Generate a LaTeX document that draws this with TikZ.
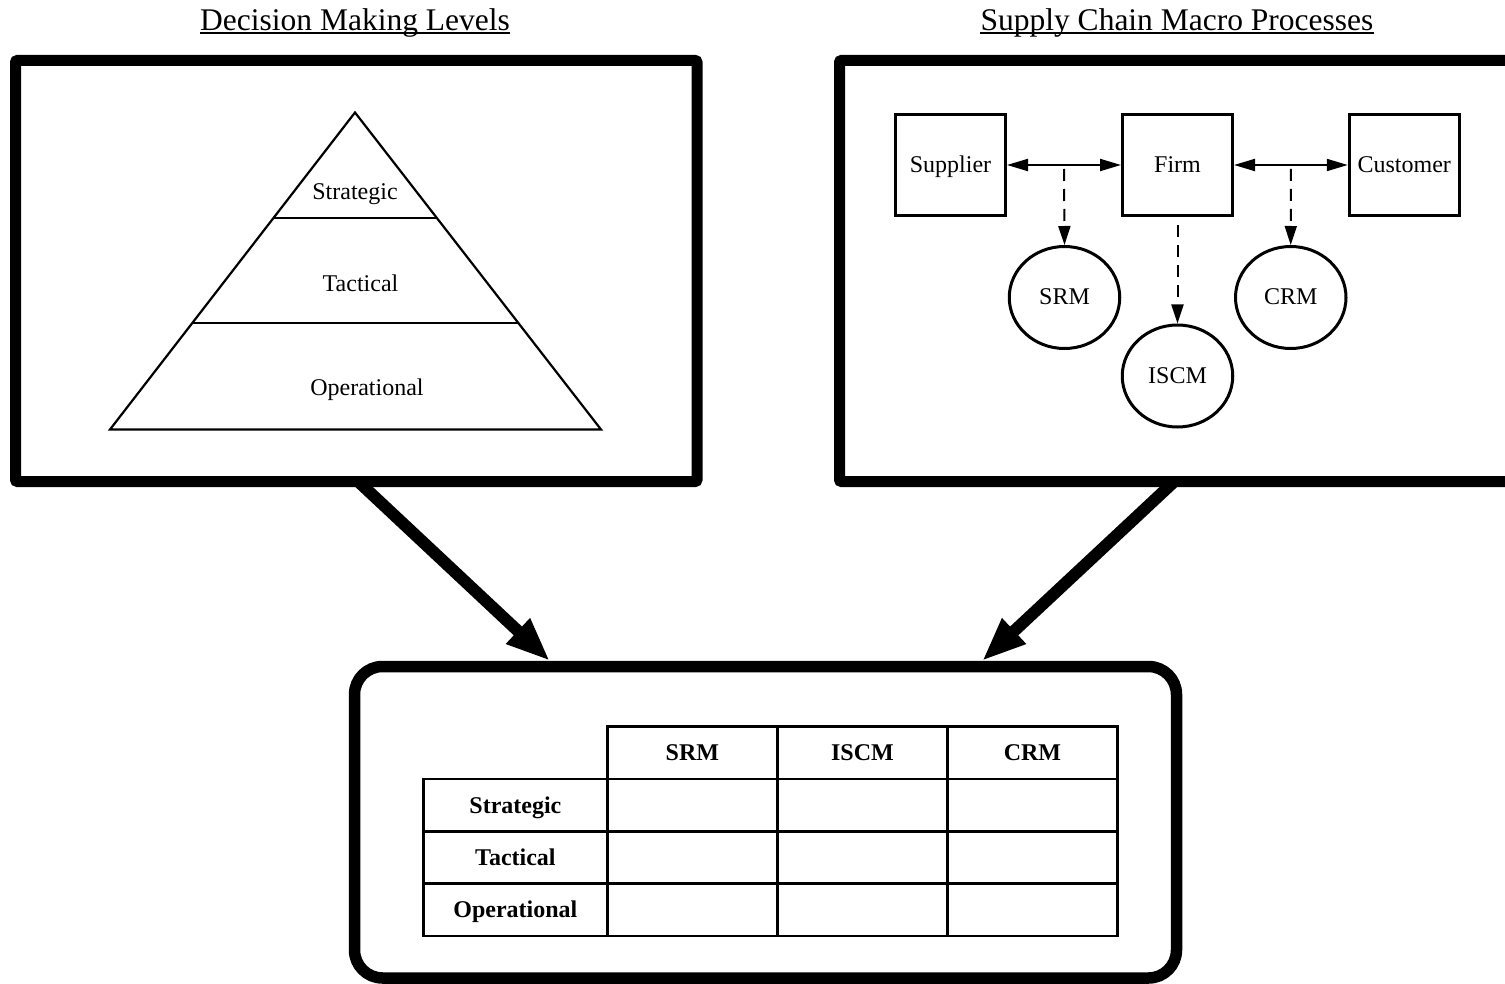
\documentclass[tikz,border=0pt]{standalone}
\usepackage{fontspec}
\setmainfont{Liberation Serif}
\usetikzlibrary{arrows.meta,shapes.geometric,calc}

\begin{document}
\begin{tikzpicture}[x=1pt,y=-1pt,
  panel/.style={draw, line width=11pt, rounded corners=2pt, inner sep=0pt, outer sep=0pt,
                minimum width=681.5pt, minimum height=421pt},
  heading/.style={inner sep=0pt, anchor=base, font=\fontsize{31.5}{36}\selectfont},
  lbl/.style={inner sep=0pt, anchor=base, font=\fontsize{24}{28}\selectfont},
  party/.style={draw, line width=3pt, inner sep=0pt, minimum width=110pt, minimum height=101.5pt,
                text height=15pt, text depth=0pt, font=\fontsize{24}{28}\selectfont},
  proc/.style={draw, ellipse, line width=3pt, inner sep=0pt, minimum width=110.5pt, minimum height=102pt,
               text height=15pt, text depth=0pt, font=\fontsize{24}{28}\selectfont},
  link/.style={line width=2pt, {Triangle[length=21pt,width=12pt]}-{Triangle[length=21pt,width=12pt]}},
  feed/.style={line width=2pt, dash pattern=on 12pt off 8pt, -{Triangle[length=19pt,width=12pt]}},
  bigarrow/.style={line width=12pt, -{Triangle[length=44pt,width=32pt]}},
  cell/.style={draw, line width=2.8pt, inner sep=0pt, minimum height=52.3pt,
               text height=16pt, text depth=0pt, font=\bfseries\fontsize{24}{28}\selectfont},
  levelline/.style={line width=2.2pt, line join=miter}
]
\useasboundingbox (0,0) rectangle (1505,984);
\clip (0,0) rectangle (1505,984);

% headings with underlines
\node[heading] (t1) at (355,30.5) {Decision Making Levels};
\node[heading] (t2) at (1177,30.5) {Supply Chain Macro Processes};
\draw[line width=1.5pt] ([yshift=-2.5pt]t1.base west) -- ([yshift=-2.5pt]t1.base east);
\draw[line width=1.5pt] ([yshift=-2.5pt]t2.base west) -- ([yshift=-2.5pt]t2.base east);

% the two upper panels
\node[panel] (dml) at (356.25,271) {};
\node[panel] (scp) at (1180.25,271) {};

% decision pyramid
\coordinate (apex) at (355,112.5);
\coordinate (bl) at (110,429.5);
\coordinate (br) at (601,429.5);
\draw[levelline] (apex) -- (bl) -- (br) -- cycle;
\draw[levelline] ($(apex)!0.334!(bl)$) -- ($(apex)!0.334!(br)$);
\draw[levelline] ($(apex)!0.664!(bl)$) -- ($(apex)!0.664!(br)$);
\node[lbl] (lvS) at (355,199.5) {Strategic};
\node[lbl] (lvT) at (360.5,291.5) {Tactical};
\node[lbl] (lvO) at (367,395.5) {Operational};

% supply chain parties and processes
\node[party] (sup) at (950.5,165) {Supplier};
\node[party] (firm) at (1177.5,165) {Firm};
\node[party] (cust) at (1404.25,165) {Customer};
\node[proc] (srm) at (1064.5,297.5) {SRM};
\node[proc] (iscm) at (1177.5,376) {ISCM};
\node[proc] (crm) at (1290.75,297.5) {CRM};

\draw[link] (sup.east) -- (firm.west);
\draw[link] (firm.east) -- (cust.west);
\coordinate (m1) at ($(sup.east)!0.5!(firm.west)+(0,4)$);
\coordinate (m2) at ($(firm.east)!0.5!(cust.west)+(0,4)$);
\coordinate (m3) at ($(firm.south)+(0,8)$);
\draw[feed] (m1) -- (srm.north);
\draw[feed] (m3) -- (iscm.north);
\draw[feed] (m2) -- (crm.north);

% lower panel with the matrix
\node[draw, line width=11.5pt, rounded corners=28pt, inner sep=0pt, outer sep=0pt,
      minimum width=822pt, minimum height=311.5pt] (mat) at (765.5,822.25) {};

\draw[bigarrow] ([xshift=2pt]dml.south) -- ([xshift=-215.5pt,yshift=5.5pt]mat.north);
\draw[bigarrow] ([xshift=-6pt]scp.south) -- ([xshift=216.5pt,yshift=5.5pt]mat.north);

% matrix cells
\node[cell, minimum width=170pt] (hS) at (692.4,752.85) {SRM};
\node[cell, minimum width=170pt] (hI) at (862.4,752.85) {ISCM};
\node[cell, minimum width=170pt] (hC) at (1032.4,752.85) {CRM};
\foreach \r/\y/\name in {1/805.15/Strategic, 2/857.45/Tactical, 3/909.75/Operational}{
  \node[cell, minimum width=184pt] (row\r) at (515.4,\y) {\name};
  \foreach \c/\x in {1/692.4, 2/862.4, 3/1032.4}{
    \node[cell, minimum width=170pt] (c\r\c) at (\x,\y) {};
  }
}
\end{tikzpicture}
\end{document}
